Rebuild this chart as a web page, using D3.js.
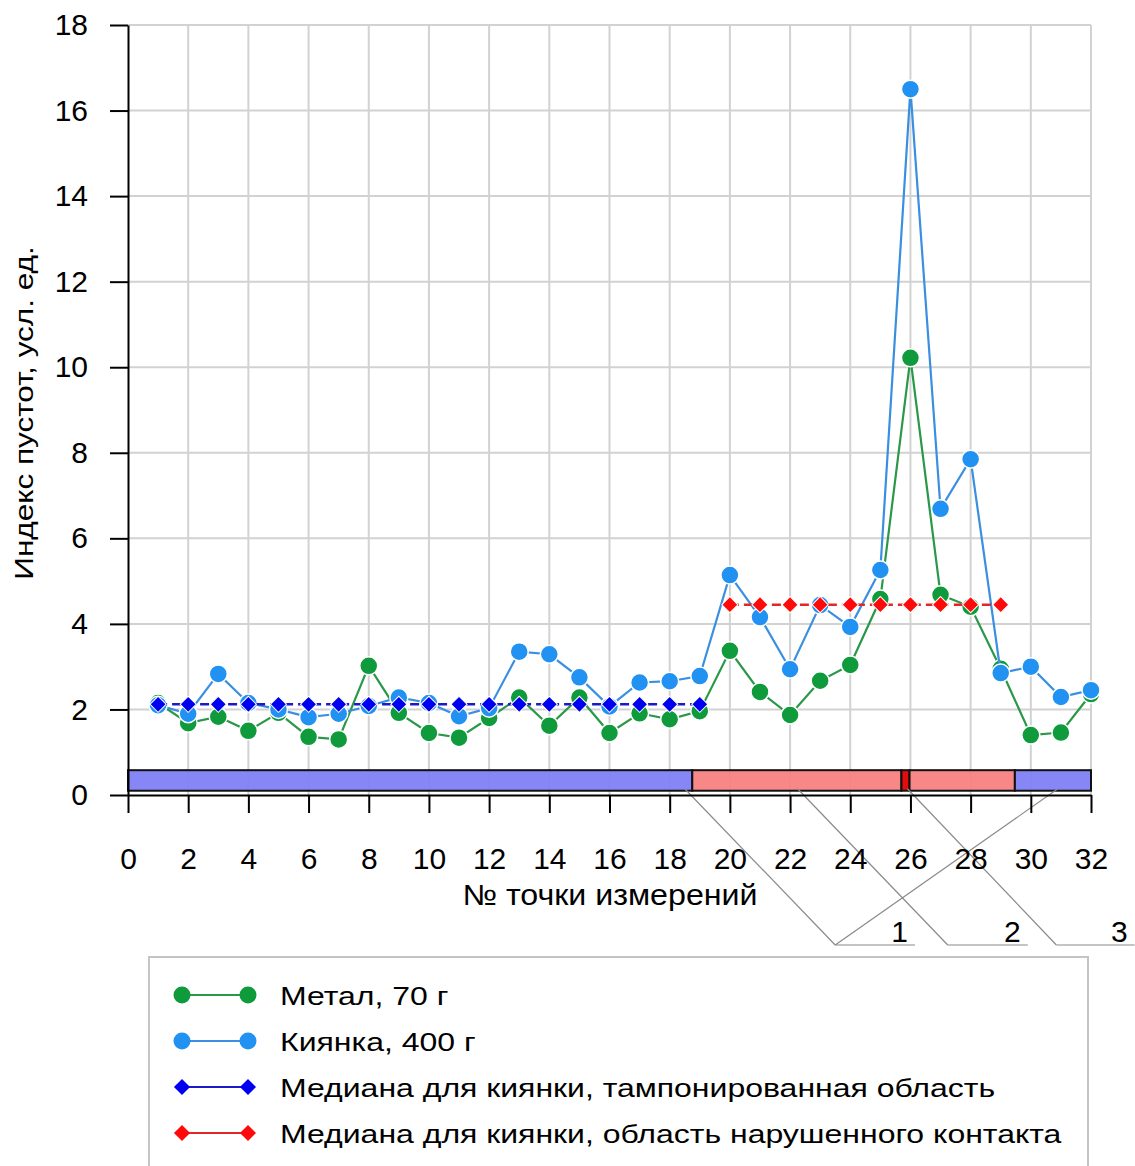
<!DOCTYPE html>
<html>
<head>
<meta charset="utf-8">
<script src="https://cdn.jsdelivr.net/npm/d3@7"></script>
<style>
  body { margin: 0; background: #fff; }
  svg text { font-family: "Liberation Sans", Arial, sans-serif; fill: #000; }
</style>
</head>
<body>
<div class="vis-chart"></div>
<script>
// data
const pointNo = [1,2,3,4,5,6,7,8,9,10,11,12,13,14,15,16,17,18,19,20,21,22,23,24,25,26,27,28,29,30,31,32];
const metal = [2.15,1.68,1.83,1.5,1.92,1.36,1.3,3.02,1.92,1.45,1.34,1.8,2.28,1.62,2.28,1.45,1.91,1.77,1.96,3.37,2.41,1.87,2.67,3.04,4.58,10.22,4.68,4.4,2.95,1.4,1.46,2.36];
const mallet = [2.1,1.9,2.83,2.15,2.0,1.82,1.9,2.08,2.28,2.15,1.84,2.03,3.35,3.29,2.75,2.07,2.63,2.66,2.78,5.14,4.16,2.94,4.44,3.93,5.26,16.5,6.69,7.85,2.85,3.0,2.29,2.45];
const medianTampNo = [1,2,3,4,5,6,7,8,9,10,11,12,13,14,15,16,17,18,19];
const medianTamp = 2.12;
const medianContactNo = [20,21,22,23,24,25,26,27,28,29];
const medianContact = 4.45;

// zones on the strip under the curves
const zoneStart = [0, 18.75, 25.7, 25.97, 29.47];
const zoneEnd = [18.75, 25.7, 25.97, 29.47, 32];
const zoneKind = ['tamp', 'contact', 'crack', 'contact', 'tamp'];
const zoneLow = 0.1, zoneHigh = 0.58;

// callouts 1,2,3
const calloutLabels = ['1', '2', '3'];
const calloutTargets = [[18.5, 30.9], [22.25], [25.9]];
const calloutBase = [23.5, 27.24, 30.85];
const calloutEnd = [26.15, 29.9, 33.45];

const xTicks = [0,2,4,6,8,10,12,14,16,18,20,22,24,26,28,30,32];
const yTicks = [0,2,4,6,8,10,12,14,16,18];
const xTitle = '№ точки измерений';
const yTitle = 'Индекс пустот, усл. ед.';
const legendNames = ['Метал, 70 г', 'Киянка, 400 г', 'Медиана для киянки, тампонированная область', 'Медиана для киянки, область нарушенного контакта'];

// widen a text element along its baseline
const stretch = (sel, k) => {
  const w = sel.node().getComputedTextLength();
  sel.attr('textLength', w * k).attr('lengthAdjust', 'spacingAndGlyphs');
};

const draw = () => {
  const width = 1135;
  const height = 1166;
  const green = '#0f9a3c', greenLine = '#2a9848';
  const blue = '#2191f2', blueLine = '#3a8fe0';
  const darkBlue = '#0000f0', darkBlueLine = '#1a1ac8';
  const red = '#ff0a0a', redLine = '#e02828';
  const zoneColor = { tamp: '#7f7ff7', contact: '#f88282', crack: '#e00000' };

  const svg = d3.select('.vis-chart').append('svg').attr('width', width).attr('height', height);

  const x = d3.scaleLinear().domain([0, 32]).range([128, 1091]);
  const y = d3.scaleLinear().domain([0, 18]).range([795, 25]);

  // grid
  svg.append('g').selectAll('line').data(yTicks.slice(1)).enter().append('line')
    .attr('x1', x(0)).attr('x2', x(32)).attr('y1', d => y(d)).attr('y2', d => y(d))
    .attr('stroke', '#d2d2d2').attr('stroke-width', 2);
  svg.append('g').selectAll('line').data(xTicks.slice(1)).enter().append('line')
    .attr('x1', d => x(d)).attr('x2', d => x(d)).attr('y1', y(0)).attr('y2', y(18))
    .attr('stroke', '#d2d2d2').attr('stroke-width', 2);

  // zone strip
  svg.append('g').selectAll('rect').data(zoneStart).enter().append('rect')
    .attr('x', (d) => x(d)).attr('width', (d, i) => x(zoneEnd[i]) - x(d))
    .attr('y', y(zoneHigh)).attr('height', y(zoneLow) - y(zoneHigh))
    .attr('fill', (d, i) => zoneColor[zoneKind[i]]).attr('fill-opacity', 0.95)
    .attr('stroke', '#111').attr('stroke-width', 2);

  // callouts
  const cg = svg.append('g').attr('stroke', '#8a8a8a').attr('stroke-width', 1.2).attr('fill', 'none');
  const baseY = 945;
  calloutLabels.forEach((lab, i) => {
    calloutTargets[i].forEach(t => {
      cg.append('line').attr('x1', x(t)).attr('y1', y(zoneLow) - 2)
        .attr('x2', x(calloutBase[i])).attr('y2', baseY);
    });
    cg.append('line').attr('x1', x(calloutBase[i])).attr('y1', baseY)
      .attr('x2', x(calloutEnd[i])).attr('y2', baseY);
    svg.append('text').attr('x', x(calloutEnd[i]) - 7).attr('y', baseY - 3)
      .attr('text-anchor', 'end').attr('font-size', 30).text(lab);
  });

  // axes
  const xAxis = svg.append('g').attr('transform', 'translate(0,' + y(0) + ')')
    .call(d3.axisBottom(x).tickValues(xTicks).tickSize(18).tickSizeOuter(0).tickPadding(35));
  const yAxis = svg.append('g').attr('transform', 'translate(' + x(0) + ',0)')
    .call(d3.axisLeft(y).tickValues(yTicks).tickSize(18).tickSizeOuter(0).tickPadding(22));
  [xAxis, yAxis].forEach(a => {
    a.selectAll('path, line').attr('stroke', '#000').attr('stroke-width', 2);
    a.selectAll('text').attr('font-size', 30).attr('font-family', '"Liberation Sans", Arial, sans-serif').attr('fill', '#000');
  });

  const xt = svg.append('text').attr('x', 610).attr('y', 905).attr('text-anchor', 'middle')
    .attr('font-size', 29).text(xTitle);
  stretch(xt, 1.11);
  const yt = svg.append('text').attr('transform', 'translate(33,413) rotate(-90)').attr('text-anchor', 'middle')
    .attr('font-size', 26.5).text(yTitle);
  stretch(yt, 1.19);

  // series
  const line = d3.line().x((d) => x(d[0])).y((d) => y(d[1]));
  const metalPts = pointNo.map((n, i) => [n, metal[i]]);
  const malletPts = pointNo.map((n, i) => [n, mallet[i]]);
  const tampPts = medianTampNo.map(n => [n, medianTamp]);
  const contactPts = medianContactNo.map(n => [n, medianContact]);

  const diamond = d3.symbol().type(d3.symbolSquare).size(130);

  const drawCircles = (pts, col, lineCol) => {
    svg.append('path').attr('d', line(pts)).attr('fill', 'none').attr('stroke', lineCol).attr('stroke-width', 2.2);
    svg.append('g').selectAll('circle').data(pts).enter().append('circle')
      .attr('cx', d => x(d[0])).attr('cy', d => y(d[1])).attr('r', 9)
      .attr('fill', col).attr('stroke', '#fff').attr('stroke-width', 1.5);
  };
  const drawDiamonds = (pts, col, lineCol) => {
    svg.append('path').attr('d', line(pts)).attr('fill', 'none').attr('stroke', lineCol)
      .attr('stroke-width', 2.5).attr('stroke-dasharray', '9,5');
    svg.append('g').selectAll('path').data(pts).enter().append('path')
      .attr('d', diamond)
      .attr('transform', d => 'translate(' + x(d[0]) + ',' + y(d[1]) + ') rotate(45)')
      .attr('fill', col).attr('stroke', '#fff').attr('stroke-width', 1);
  };
  drawCircles(metalPts, green, greenLine);
  drawCircles(malletPts, blue, blueLine);
  drawDiamonds(tampPts, darkBlue, darkBlueLine);
  drawDiamonds(contactPts, red, redLine);

  // legend
  svg.append('rect').attr('x', 149).attr('y', 957).attr('width', 939).attr('height', 240)
    .attr('fill', '#fff').attr('stroke', '#c4c4c4').attr('stroke-width', 2);
  const rowY = [995, 1041, 1087, 1133];
  const legMarks = [['c', green, greenLine], ['c', blue, blueLine], ['d', darkBlue, darkBlueLine], ['d', red, redLine]];
  legendNames.forEach((name, i) => {
    const g = svg.append('g').attr('transform', 'translate(0,' + rowY[i] + ')');
    g.append('line').attr('x1', 182).attr('x2', 248).attr('stroke', legMarks[i][2]).attr('stroke-width', 2);
    [182, 248].forEach(px => {
      if (legMarks[i][0] === 'c') {
        g.append('circle').attr('cx', px).attr('r', 8.5).attr('fill', legMarks[i][1]);
      } else {
        g.append('path').attr('d', diamond).attr('transform', 'translate(' + px + ',0) rotate(45)').attr('fill', legMarks[i][1]);
      }
    });
    const t = g.append('text').attr('x', 280).attr('y', 10).attr('font-size', 26).text(name);
    stretch(t, 1.23);
  });
};

draw();
</script>
</body>
</html>
